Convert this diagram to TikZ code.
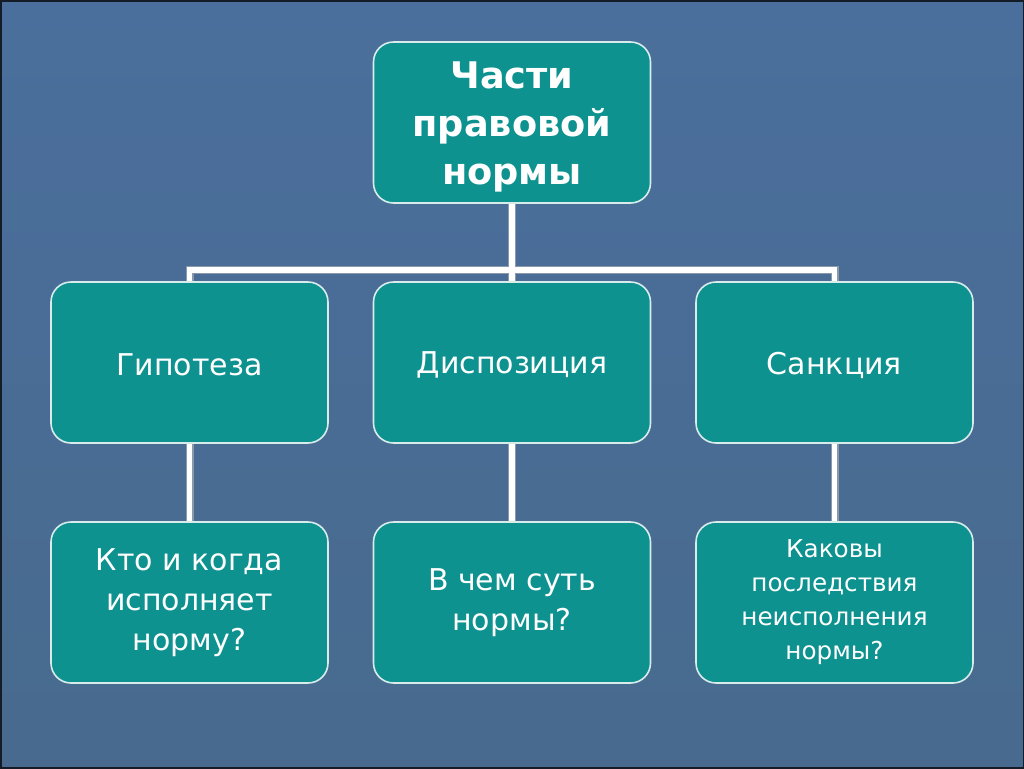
\documentclass[tikz,border=0pt]{standalone}
\usepackage{fontspec}
\setmainfont{DejaVu Sans}
\begin{document}
\begin{tikzpicture}[x=0.75pt,y=-0.75pt,
  box/.style={draw=white!85!teal,line width=1.2pt,fill=boxteal,rounded corners=15pt,
    text=white,align=center,inner sep=0pt,minimum width=277*0.75pt,minimum height=161*0.75pt},
  link/.style={draw=linkedge,line width=6pt,line cap=rect},
  linkw/.style={draw=white,line width=4.2pt,line cap=rect},
  regular/.style={font=\fontsize{22.5}{30}\selectfont},
  small/.style={font=\fontsize{18.5}{25.5}\selectfont}]
\definecolor{boxteal}{HTML}{0E9290}
\definecolor{linkedge}{HTML}{8A9AAA}
\definecolor{bgtop}{HTML}{4A6F9C}
\definecolor{bgbot}{HTML}{486A8E}
\useasboundingbox (0,0) rectangle (1024,768);
\shade[top color=bgtop,bottom color=bgbot] (0,0) rectangle (1024,768);
\draw[draw=black!75!bgtop,line width=1.5pt] (0.5,0.5) rectangle (1023.5,767.5);

\coordinate (bar) at (512,270);
\coordinate (barL) at (189.5,270);
\coordinate (barR) at (834.5,270);
\coordinate (topS) at (512,203);
\coordinate (hypN) at (189.5,282);
\coordinate (disN) at (512,282);
\coordinate (sanN) at (834.5,282);
\coordinate (hypS) at (189.5,443);
\coordinate (disS) at (512,443);
\coordinate (sanS) at (834.5,443);
\coordinate (q1N) at (189.5,522);
\coordinate (q2N) at (512,522);
\coordinate (q3N) at (834.5,522);

\foreach \s in {link,linkw}{
  \draw[\s] (topS) -- (bar);
  \draw[\s] (barL) -- (barR);
  \draw[\s] (barL) -- (hypN);
  \draw[\s] (bar) -- (disN);
  \draw[\s] (barR) -- (sanN);
  \draw[\s] (hypS) -- (q1N);
  \draw[\s] (disS) -- (q2N);
  \draw[\s] (sanS) -- (q3N);
}

\node[box,font=\bfseries\fontsize{27.5}{36}\selectfont] (top) at (512,122.5) {};
\node[text=white,align=center,inner sep=0pt,font=\bfseries\fontsize{27.5}{36}\selectfont] (toptext) at (512,127) {Части\\правовой\\нормы};
\node[box,regular] (hyp) at (189.5,362.5) {};
\node[text=white,inner sep=0pt,regular] (hyptext) at (189.5,365) {Гипотеза};
\node[box,regular] (dis) at (512,362.5) {};
\node[text=white,inner sep=0pt,regular] (distext) at (512,365) {Диспозиция};
\node[box,regular] (san) at (834.5,362.5) {};
\node[text=white,inner sep=0pt,regular] (santext) at (834.5,365) {Санкция};
\node[box,regular] (q1) at (189.5,602.5) {Кто и когда\\исполняет\\норму?};
\node[box,regular] (q2) at (512,602.5) {В чем суть\\нормы?};
\node[box,small] (q3) at (834.5,602.5) {Каковы\\последствия\\неисполнения\\нормы?};
\end{tikzpicture}
\end{document}
